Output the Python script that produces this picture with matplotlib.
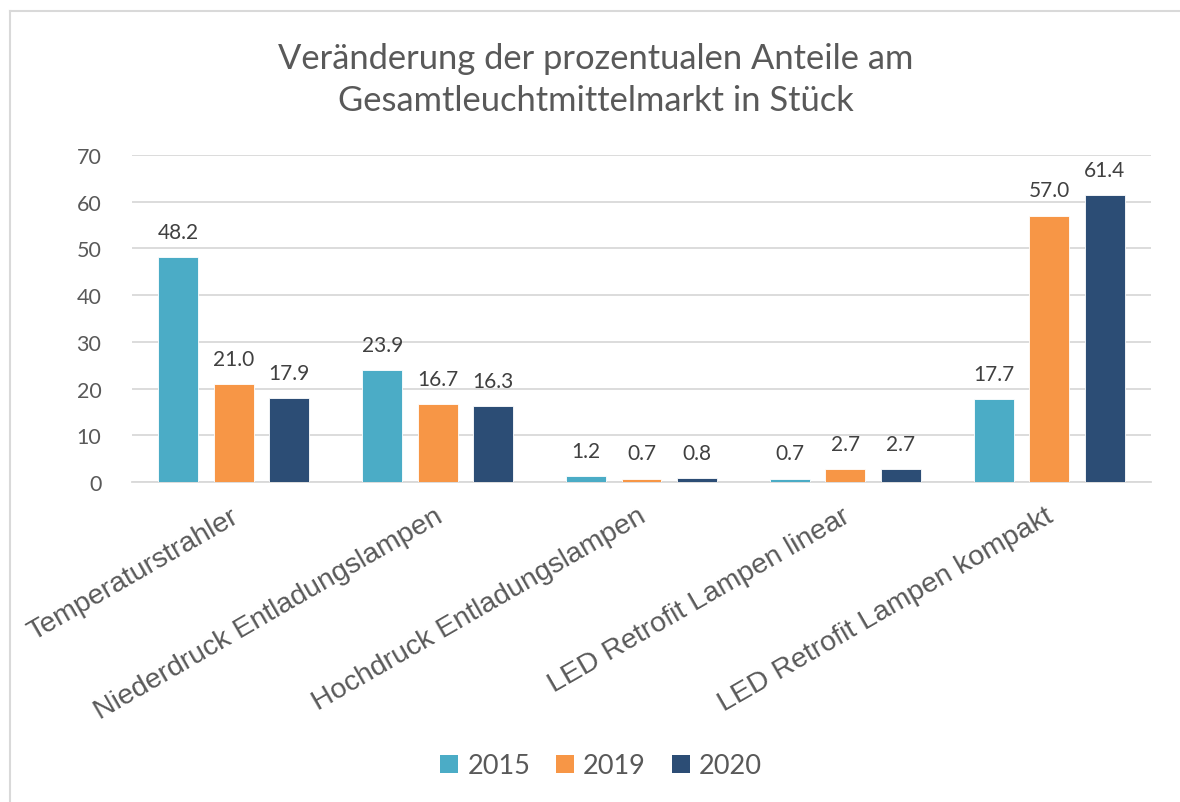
import matplotlib
matplotlib.use("Agg")
import matplotlib.pyplot as plt
import matplotlib.transforms as mtransforms
import numpy as np
from matplotlib.patches import Patch
from matplotlib.lines import Line2D

categories = ["Temperaturstrahler", "Niederdruck Entladungslampen",
              "Hochdruck Entladungslampen", "LED Retrofit Lampen linear",
              "LED Retrofit Lampen kompakt"]
series_names = ["2015", "2019", "2020"]
v2015 = [48.2, 23.9, 1.2, 0.7, 17.7]
v2019 = [21.0, 16.7, 0.7, 2.7, 57.0]
v2020 = [17.9, 16.3, 0.8, 2.7, 61.4]
yticks = [0, 10, 20, 30, 40, 50, 60, 70]
title = "Veränderung der prozentualen Anteile am\nGesamtleuchtmittelmarkt in Stück"

colors = ["#4BACC6", "#F79646", "#2C4D75"]
txt = "#595959"
cal = ["Lato", "DejaVu Sans"]

fig = plt.figure(figsize=(11.8, 8.03), dpi=100)
ax = fig.add_axes([132/1180, 1-483/803, (1151-132)/1180, (483-156)/803])

x = np.arange(len(categories))
width = 0.196
step = 0.272
for i, (vals, c, name) in enumerate(zip([v2015, v2019, v2020], colors, series_names)):
    pos = x + (i - 1) * step
    bars = ax.bar(pos, vals, width, color=c, edgecolor="white", linewidth=0.6, zorder=3, label=name)
    for b, v in zip(bars, vals):
        ax.annotate(f"{v:.1f}", (b.get_x() + b.get_width()/2, v), xytext=(0, 11),
                    textcoords="offset points", ha="center", va="bottom",
                    fontsize=15, color="#404040", family=cal)

ax.set_xlim(-0.5, len(categories) - 0.5)
ax.set_ylim(0, 70)
ax.set_yticks(yticks)
ax.set_yticklabels([str(t) for t in yticks], fontsize=15.5, color=txt, family=cal)
ax.grid(axis="y", color="#D9D9D9", linewidth=1.3, zorder=0)
ax.tick_params(axis="both", length=0)
ax.tick_params(axis="y", pad=22)
for s in ["top", "right", "left"]:
    ax.spines[s].set_visible(False)
ax.spines["bottom"].set_color("#D9D9D9")
ax.spines["bottom"].set_linewidth(1.3)

ax.set_xticks(x)
ax.set_xticklabels(categories, rotation=30, ha="right", va="top", rotation_mode="anchor",
                   fontsize=20.5, color=txt, family=["Liberation Sans", "DejaVu Sans"])
ax.tick_params(axis="x", pad=15)
offset = mtransforms.ScaledTranslation(-4/100, 0, fig.dpi_scale_trans)
for lab in ax.get_xticklabels():
    lab.set_transform(lab.get_transform() + offset)

fig.text(596/1180, 1-80/803, title, ha="center", va="center", fontsize=24.8,
         color=txt, family=cal, linespacing=1.4)

handles = [Patch(facecolor=c, edgecolor="none") for c in colors]
leg = fig.legend(handles, series_names, loc="center", bbox_to_anchor=(601/1180, 1-767/803),
                 ncol=3, frameon=False, handlelength=0.67, handleheight=0.67,
                 handletextpad=0.33, columnspacing=0.95, prop={"family": cal, "size": 19.5})
for t in leg.get_texts():
    t.set_color(txt)

# outer border (top and left visible)
fig.add_artist(Line2D([10/1180, 1.0], [1-12/803, 1-12/803], transform=fig.transFigure,
                      color="#D9D9D9", linewidth=1.5))
fig.add_artist(Line2D([10/1180, 10/1180], [0, 1-12/803], transform=fig.transFigure,
                      color="#D9D9D9", linewidth=1.5))

fig.savefig("out.png", dpi=100)
